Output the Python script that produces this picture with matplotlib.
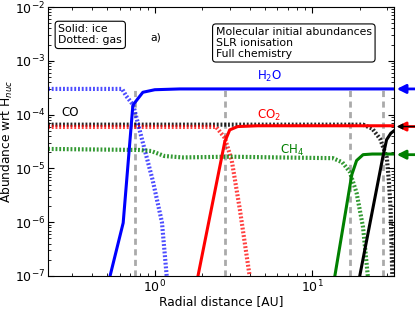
import matplotlib
matplotlib.use("Agg")
import matplotlib.pyplot as plt

# radial distance [AU] and abundances
h2o_ice_r = [0.52, 0.63, 0.726, 0.84, 1.0, 1.44, 33]
h2o_ice = [1e-7, 9.7e-7, 1.5e-4, 2.6e-4, 2.9e-4, 3.0e-4, 3.0e-4]
h2o_gas_r = [0.21, 0.62, 0.66, 0.73, 0.84, 0.97, 1.11, 1.19]
h2o_gas = [3.0e-4, 3.0e-4, 2.2e-4, 1.5e-4, 3e-5, 6e-6, 1e-6, 1e-7]

co2_ice_r = [1.88, 2.78, 2.99, 3.36, 4.5, 33]
co2_ice = [1e-7, 3.1e-5, 5.2e-5, 6.0e-5, 6.2e-5, 6.2e-5]
co2_gas_r = [0.21, 2.45, 2.78, 3.08, 3.47, 4.0]
co2_gas = [5.9e-5, 5.9e-5, 3.7e-5, 1.4e-5, 1.7e-6, 1e-7]

ch4_ice_r = [13.9, 17.8, 19.1, 21, 24, 33]
ch4_ice = [1e-7, 7.6e-6, 1.4e-5, 1.8e-5, 1.85e-5, 1.85e-5]
ch4_gas_r = [0.21, 0.8, 0.95, 1.15, 1.5, 3.0, 6.0, 13.5, 15.5, 17.3, 19.1, 21, 22.5]
ch4_gas = [2.3e-5, 2.2e-5, 2.1e-5, 1.7e-5, 1.6e-5, 1.65e-5, 1.6e-5, 1.55e-5,
           1.3e-5, 8.6e-6, 3.5e-6, 8e-7, 1e-7]

co_ice_r = [20.0, 28, 29.6, 31.5, 33]
co_ice = [1e-7, 1.6e-5, 3.4e-5, 4.5e-5, 5e-5]
co_gas_r = [0.21, 21, 24, 27, 29.7, 30.6, 31.4, 31.8, 32.2]
co_gas = [6.5e-5, 6.5e-5, 5.5e-5, 3.5e-5, 1.6e-5, 6e-6, 1.8e-6, 4e-7, 1e-7]

snow_lines = [0.75, 2.78, 17.3, 28.0]
initial_abund = [3.0e-4, 6.0e-5, 1.8e-5]
initial_colors = ['blue', 'red', 'green']
co_initial = 6.0e-5

fig = plt.figure(figsize=(4.15, 3.1), dpi=100)
ax = fig.add_axes([0.1157, 0.1097, 0.8337, 0.8677])

dot = (0, (0.45, 0.45))
ax.vlines(snow_lines, 1e-7, 2.9e-4, colors='#aaaaaa', linestyles=(0, (2.2, 1.6)), lw=2, zorder=1)

ax.plot(co_gas_r, co_gas, color='black', ls=dot, lw=3, alpha=0.85)
ax.plot(co2_gas_r, co2_gas, color='red', ls=dot, lw=3, alpha=0.75)
ax.plot(h2o_gas_r, h2o_gas, color='blue', ls=dot, lw=3, alpha=0.7)
ax.plot(ch4_gas_r, ch4_gas, color='green', ls=dot, lw=3, alpha=0.8)

ax.plot(h2o_ice_r, h2o_ice, color='blue', lw=2.2)
ax.plot(co2_ice_r, co2_ice, color='red', lw=2.2)
ax.plot(ch4_ice_r, ch4_ice, color='green', lw=2.2)
ax.plot(co_ice_r, co_ice, color='black', lw=2.2)

ax.set_xscale('log')
ax.set_yscale('log')
ax.set_xlim(0.21, 33)
ax.set_ylim(1e-7, 1e-2)

# arrows marking the initial abundances
for val, col in zip(initial_abund, initial_colors):
    ax.annotate('', xy=(1.0, val), xytext=(1.07, val),
                xycoords=('axes fraction', 'data'), textcoords=('axes fraction', 'data'),
                arrowprops=dict(arrowstyle='-|>', color=col, lw=2, mutation_scale=13),
                annotation_clip=False)
ax.annotate('', xy=(1.0, co_initial), xytext=(1.07, co_initial),
            xycoords=('axes fraction', 'data'), textcoords=('axes fraction', 'data'),
            arrowprops=dict(arrowstyle='-|>', color='black', lw=1, mutation_scale=8),
            annotation_clip=False)

ax.tick_params(which='both', direction='in', top=True, right=True, labelsize=9)
ax.tick_params(which='major', length=4, pad=2)
ax.tick_params(which='minor', length=2)

ax.set_xlabel('Radial distance [AU]', fontsize=8.8, labelpad=0)
ax.set_ylabel('Abundance wrt H$_{nuc}$', fontsize=8.8, labelpad=0)

box = dict(boxstyle='round,pad=0.3', fc='white', ec='black', lw=0.8)
ax.text(0.03, 0.935, 'Solid: ice\nDotted: gas', transform=ax.transAxes, fontsize=7.8,
        va='top', ha='left', bbox=box, linespacing=1.1)
ax.text(0.295, 0.905, 'a)', transform=ax.transAxes, fontsize=7.8, va='top', ha='left')
ax.text(0.485, 0.925, 'Molecular initial abundances\nSLR ionisation\nFull chemistry',
        transform=ax.transAxes, fontsize=7.8, va='top', ha='left', bbox=box, linespacing=1.1)

ax.text(0.64, 0.74, 'H$_2$O', color='blue', transform=ax.transAxes, fontsize=8.5, ha='center', va='center')
ax.text(0.064, 0.606, 'CO', color='black', transform=ax.transAxes, fontsize=8.5, ha='center', va='center')
ax.text(0.64, 0.598, 'CO$_2$', color='red', transform=ax.transAxes, fontsize=8.5, ha='center', va='center')
ax.text(0.705, 0.468, 'CH$_4$', color='green', transform=ax.transAxes, fontsize=8.5, ha='center', va='center')

fig.savefig('out.png', dpi=100)
